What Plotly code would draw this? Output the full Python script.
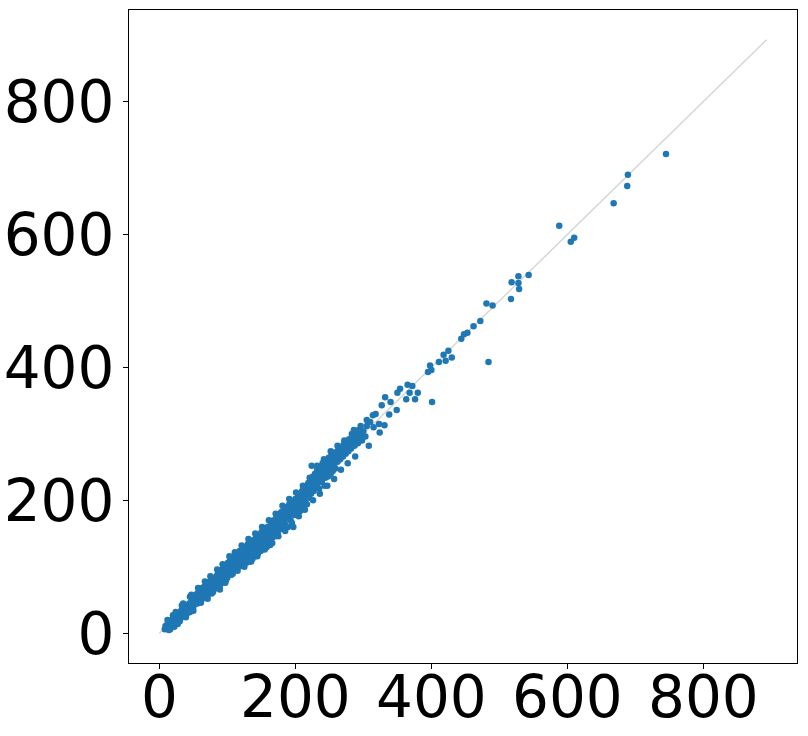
import plotly.graph_objects as go

# Dense band (hand-read estimates) plus sparse upper points
pts = [
 (8,6),(9,11),(10,9),(11,7),(12,14),(12,10),(13,8),(14,16),(14,5),(15,12),(15,9),(16,18),(17,13),(18,11),(18,20),(19,15),(20,17),(20,13),(20,27),
 (21,22),(22,18),(22,15),(22,10),(23,20),(24,24),(24,17),(25,21),(26,19),(26,27),(27,23),(28,22),(28,18),(29,30),(30,25),(30,21),(30,18),
 (31,28),(32,26),(32,34),(33,24),(33,42),(34,30),(34,36),(35,27),(36,33),(36,29),(37,39),(38,31),(38,35),(38,26),(39,28),(40,38),(40,33),
 (41,42),(42,36),(42,31),(43,40),(44,45),(44,34),(45,38),(45,32),(45,55),(46,43),(46,36),(47,48),(48,41),(48,38),(49,45),(50,52),(50,40),
 (51,46),(52,55),(52,44),(53,49),(54,58),(54,47),(55,52),(56,60),(56,45),(57,54),(58,50),(58,63),(59,56),(60,53),(60,66),(61,58),(62,50),
 (62,62),(63,68),(64,57),(64,61),(65,54),(66,70),(66,63),(67,59),(68,65),(68,55),(69,72),(70,62),(70,68),(71,58),(72,75),(72,66),(73,62),
 (74,70),(74,78),(75,64),(76,72),(76,68),(77,60),(78,80),(78,74),(79,70),(80,66),(80,83),(81,76),(82,72),(82,78),(83,68),(84,86),(84,80),
 (85,74),(86,70),(86,90),(87,82),(88,78),(88,84),(89,72),(90,92),(90,86),(91,80),(92,76),(92,96),(93,88),(94,84),(95,78),(95,100),(96,90),
 (97,86),(98,80),(98,103),(99,94),(100,90),(100,84),
 (101,106),(102,98),(103,92),(104,110),(104,100),(105,95),(106,104),(107,112),(108,98),(108,90),(109,108),(110,116),(110,102),(111,96),
 (112,110),(113,104),(114,120),(114,98),(115,112),(116,106),(117,100),(118,124),(118,114),(119,108),(120,102),(120,118),(121,112),(122,128),
 (123,106),(124,118),(124,114),(125,110),(126,130),(127,120),(128,112),(128,106),(129,124),(130,134),(130,118),(131,114),(132,126),(133,108),
 (134,136),(134,122),(135,118),(136,130),(137,112),(138,140),(138,126),(139,120),(140,134),(141,116),(142,144),(142,130),(143,124),(144,138),
 (145,120),(146,148),(146,134),(147,128),(148,142),(149,124),(150,152),(150,138),(151,132),(152,146),(153,128),(154,156),(155,140),(156,134),
 (157,150),(158,130),(159,160),(160,146),
 (161,140),(162,156),(163,133),(164,164),(165,150),(166,144),(167,160),(168,170),(169,152),(170,146),(171,164),(172,174),(173,158),(174,150),
 (175,168),(176,178),(177,162),(177,156),(178,172),(179,182),(180,166),(181,160),(182,176),(183,186),(184,170),(185,164),(186,180),(187,190),
 (188,174),(189,160),(190,184),(191,194),(192,178),(193,170),(194,188),(195,198),(196,182),(197,160),(198,192),(199,178),(200,202),(201,186),
 (202,196),(203,180),(204,206),(205,190),(206,200),(207,184),(208,210),(209,196),(210,214),(211,190),(212,204),(213,218),(214,198),(215,208),
 (216,222),(217,194),(218,212),(219,226),(220,204),
 (221,216),(222,230),(223,210),(224,252),(225,222),(226,236),(227,214),(228,228),(229,240),(230,220),(231,234),(232,246),(233,226),(234,238),
 (235,218),(236,250),(237,232),(238,244),(239,228),(240,256),(241,238),(242,248),(243,222),(244,234),(245,260),(246,244),(247,252),(248,236),
 (249,264),(250,246),(251,256),(252,240),(253,268),(254,250),(255,244),(256,262),(257,254),(258,272),(259,248),(260,264),(262,258),(263,276),
 (264,268),(266,262),(267,280),(268,270),(270,266),(271,284),(272,276),(274,270),(275,288),(276,280),(278,274),(279,292),(280,284),(282,278),
 (284,294),(285,288),(287,282),(288,298),(290,292),(292,286),(294,300),(296,296),(298,290),(300,304),
 # extra points widening the band
 (12,20),(16,6),(24,32),(27,14),(35,45),(39,24),(47,58),(50,34),(57,68),(61,46),(67,78),(71,52),(75,86),(79,62),(85,96),(89,66),
 (93,104),(97,76),(103,116),(106,88),(111,122),(115,94),(121,132),(125,100),(131,142),(135,108),(141,150),(144,116),(151,160),(155,126),
 (161,170),(166,136),(171,180),(175,146),(181,192),(185,154),(191,202),(195,166),(201,212),(205,176),(211,222),(214,186),(221,234),
 (226,200),(232,252),(236,210),(242,262),(247,222),(252,274),(257,232),(262,282),(267,246),(272,290),(277,256),(283,300),(288,266),
 (296,312),(303,296),(310,318),(318,330),(286,306),(293,306),(305,312),(297,292),
 # sparse upper points
 (305,321),(308,282),(314,328),(315,310),(323,315),(324,302),(327,343),(331,313),(332,355),(338,329),(340,348),(349,336),(350,362),(354,368),
 (363,352),(365,374),(368,362),(372,372),(376,352),(380,362),(395,393),(398,403),(400,396),(401,348),(411,408),(418,419),(421,410),(425,425),
 (430,415),(444,443),(448,450),(453,452),(462,462),(472,470),(481,496),(484,408),(490,493),(517,503),(518,528),(528,537),(528,527),(529,518),
 (543,539),(588,613),(605,589),(610,595),(668,647),(688,673),(689,690),(745,721),
]
x_vals = [p[0] for p in pts]
y_vals = [p[1] for p in pts]

line_x = [0, 893]
line_y = [0, 893]

tick_vals = [0, 200, 400, 600, 800]
tick_text = ["0", "200", "400", "600", "800"]
axis_range = [-44.65, 937.65]

fig = go.Figure()
fig.add_trace(go.Scatter(x=line_x, y=line_y, mode="lines",
                         line=dict(color="#d6d6d6", width=1.5), hoverinfo="skip"))
fig.add_trace(go.Scatter(x=x_vals, y=y_vals, mode="markers",
                         marker=dict(color="#1f77b4", size=6.5, line=dict(width=0))))

axis_common = dict(range=axis_range, tickvals=tick_vals, ticktext=tick_text,
                   showgrid=False, zeroline=False, showline=True, mirror=True,
                   linecolor="black", linewidth=1, ticks="outside", ticklen=5,
                   tickcolor="black", tickwidth=1, automargin=False,
                   tickfont=dict(family="DejaVu Sans", size=58, color="black"))
fig.update_xaxes(**axis_common, ticklabelstandoff=-22)
fig.update_yaxes(**axis_common, ticklabelstandoff=-3)
fig.update_layout(width=808, height=736, showlegend=False,
                  plot_bgcolor="white", paper_bgcolor="white",
                  margin=dict(l=129, r=11, t=10, b=73))
# remove the default page-body margin so the figure fills the window exactly
fig.write_html("out.html",
               config={"displayModeBar": False},
               post_script="document.body.style.margin='0';document.body.style.overflow='hidden';")
